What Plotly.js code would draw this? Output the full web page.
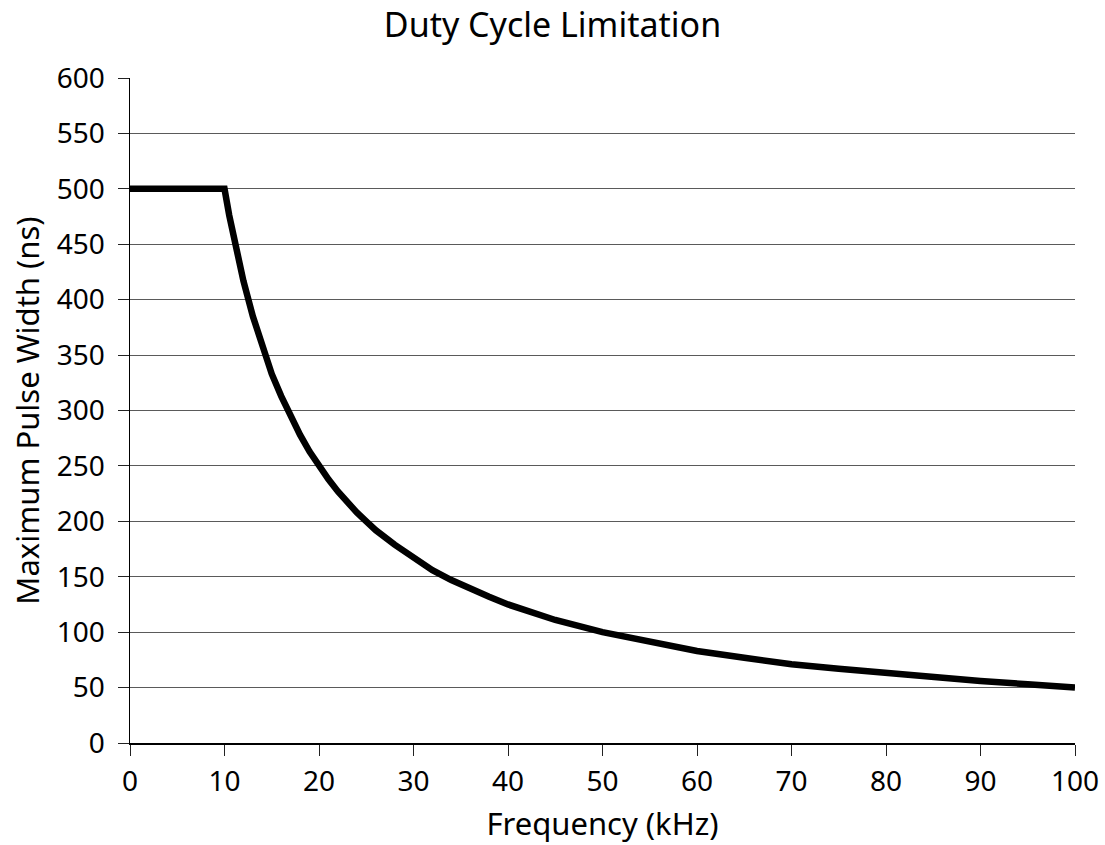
<!DOCTYPE html>
<html>
<head>
<meta charset="utf-8">
<script src="https://cdn.plot.ly/plotly-3.0.1.min.js"></script>
<style>html,body{margin:0;padding:0;background:#fff;}#chart{width:1105px;height:845px;}</style>
</head>
<body>
<div id="chart"></div>
<script>
const frequency = [0, 10, 10.5, 11, 11.5, 12, 13, 14, 15, 16, 17, 18, 19, 20, 21, 22, 23, 24, 25, 26, 28, 30, 32, 34, 36, 38, 40, 45, 50, 55, 60, 65, 70, 75, 80, 85, 90, 95, 100];
const pulseWidth = [500, 500, 476, 455, 435, 417, 385, 357, 333, 313, 294, 278, 263, 250, 238, 227, 217, 208, 200, 192, 179, 167, 156, 147, 139, 132, 125, 111, 100, 91, 83, 77, 71, 67, 63, 59, 56, 53, 50];
const xTicks = [0, 10, 20, 30, 40, 50, 60, 70, 80, 90, 100];
const yTicks = [0, 50, 100, 150, 200, 250, 300, 350, 400, 450, 500, 550, 600];

const font = 'Noto Sans, Open Sans, sans-serif';
const trace = {
  x: frequency, y: pulseWidth, type: 'scatter', mode: 'lines',
  line: {color: '#000', width: 6.5, shape: 'linear'},
  hoverinfo: 'skip'
};
const layout = {
  width: 1105, height: 845,
  margin: {l: 130, r: 30, t: 78, b: 102},
  paper_bgcolor: '#fff', plot_bgcolor: '#fff',
  showlegend: false,
  font: {family: font, color: '#000', size: 28},
  title: {text: 'Duty Cycle Limitation', font: {family: font, size: 34, color: '#000'}, x: 0.5, xanchor: 'center', y: 0.9704, yanchor: 'middle'},
  xaxis: {
    range: [0, 100], tickvals: xTicks, ticktext: xTicks.map(String),
    showgrid: false, zeroline: false, showline: true, linecolor: '#000', linewidth: 1.5,
    ticks: 'outside', ticklen: 11, tickcolor: '#222', tickwidth: 1,
    ticklabelstandoff: 2,
    tickfont: {size: 28, family: font},
    title: {text: 'Frequency (kHz)', font: {size: 31, family: font}, standoff: 15}
  },
  yaxis: {
    range: [0, 600], tickvals: yTicks, ticktext: yTicks.map(String),
    showgrid: true, gridcolor: '#5a5a5a', gridwidth: 1, zeroline: false,
    showline: true, linecolor: '#000', linewidth: 1.5,
    ticks: 'outside', ticklen: 11, tickcolor: '#222', tickwidth: 1,
    ticklabelstandoff: 7,
    tickfont: {size: 28, family: font},
    title: {text: 'Maximum Pulse Width (ns)', font: {size: 31, family: font}, standoff: 8}
  }
};
Plotly.newPlot('chart', [trace], layout, {displayModeBar: false, staticPlot: true});
</script>
</body>
</html>
